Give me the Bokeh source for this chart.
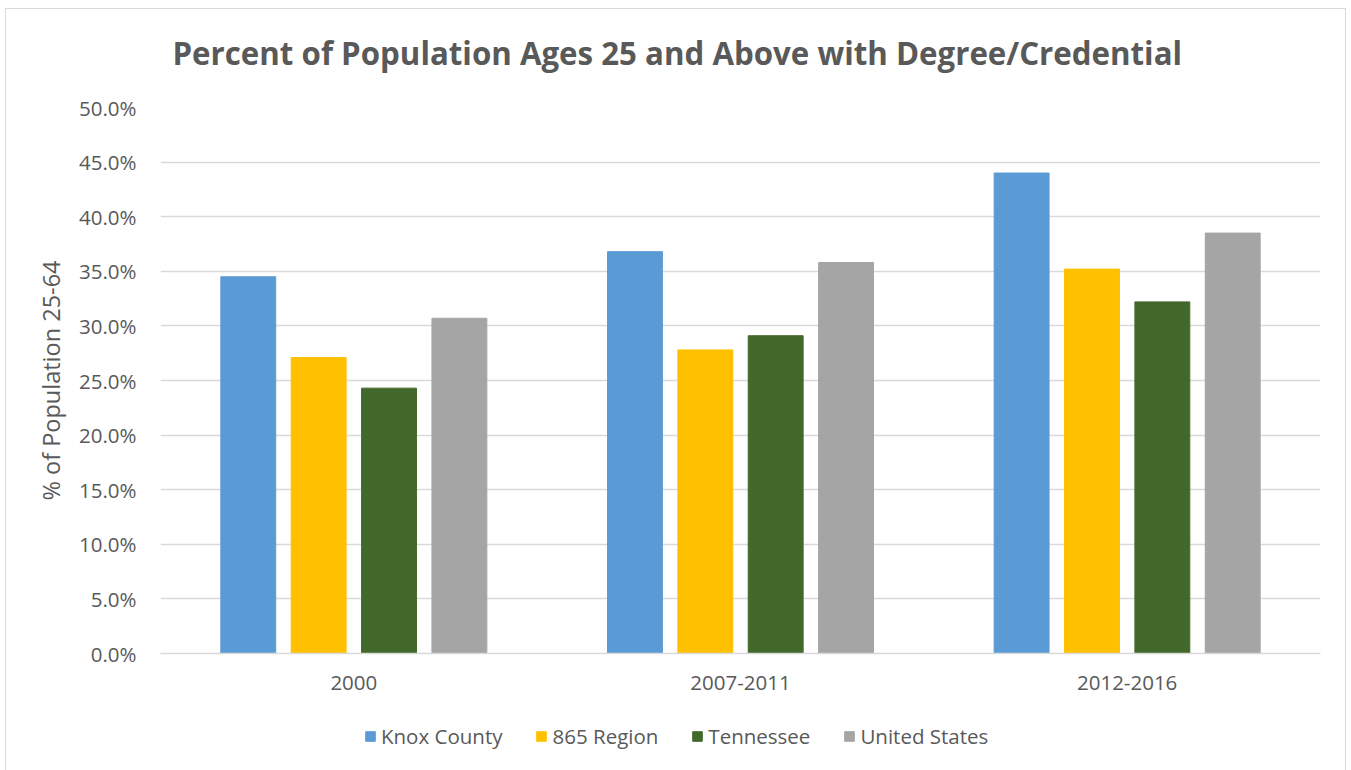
from bokeh.plotting import figure
from bokeh.layouts import column
from bokeh.models import ColumnDataSource, FactorRange, Legend, LegendItem, NumeralTickFormatter, Label, SingleIntervalTicker
from bokeh.transform import dodge
from bokeh.embed import file_html
from bokeh.resources import INLINE

periods = ["2000", "2007-2011", "2012-2016"]
series = ["Knox County", "865 Region", "Tennessee", "United States"]
knox = [0.345, 0.368, 0.440]
region865 = [0.271, 0.278, 0.352]
tennessee = [0.243, 0.291, 0.322]
united_states = [0.307, 0.358, 0.385]
colors = ["#5b9bd5", "#ffc000", "#43682b", "#a5a5a5"]

source = ColumnDataSource(dict(periods=periods, knox=knox, region865=region865,
                               tennessee=tennessee, us=united_states))

FONT = "Open Sans"
TXT = "#595959"
W = 1339


def strip(height):
    f = figure(width=W, height=height, output_backend="svg", toolbar_location=None,
               x_range=(0, 1), y_range=(0, 1), x_axis_type=None, y_axis_type=None,
               min_border=0, min_border_left=0, min_border_right=0,
               min_border_top=0, min_border_bottom=0)
    f.outline_line_color = None
    f.xgrid.visible = False
    f.ygrid.visible = False
    return f


# title strip (its frame is aligned with the main plot's frame by the column layout)
pt = strip(83)
pt.add_layout(Label(text="Percent of Population Ages 25 and Above with Degree/Credential",
                    x=12, y=40, x_units="screen", y_units="screen",
                    text_align="left", text_baseline="alphabetic",
                    text_font=FONT, text_font_size="31.25px", text_font_style="bold",
                    text_color=TXT))

p = figure(x_range=FactorRange(*periods, range_padding=0), y_range=(0, 0.5),
           width=W, height=621, output_backend="svg", toolbar_location=None,
           min_border_left=154, min_border_right=25, min_border_top=15, min_border_bottom=60)
p.outline_line_color = None

cols = ["knox", "region865", "tennessee", "us"]
offsets = [-0.273, -0.091, 0.091, 0.273]
for c, off, col in zip(cols, offsets, colors):
    p.vbar(x=dodge("periods", off, range=p.x_range), top=c, width=0.142,
           source=source, fill_color=col, line_color=col)

p.yaxis.ticker = SingleIntervalTicker(interval=0.05)
p.yaxis.formatter = NumeralTickFormatter(format="0.0%")
p.yaxis.axis_line_color = None
p.yaxis.major_tick_line_color = None
p.yaxis.minor_tick_line_color = None
p.yaxis.major_label_text_font = FONT
p.yaxis.major_label_text_font_size = "20.5px"
p.yaxis.major_label_text_color = TXT
p.yaxis.major_label_standoff = 18
p.yaxis.axis_label = "% of Population 25-64"
p.yaxis.axis_label_text_font = FONT
p.yaxis.axis_label_text_font_style = "normal"
p.yaxis.axis_label_text_font_size = "23.5px"
p.yaxis.axis_label_text_color = TXT
p.yaxis.axis_label_standoff = 9

p.xaxis.axis_line_color = "#d9d9d9"
p.xaxis.axis_line_width = 1.5
p.xaxis.major_tick_line_color = None
p.xaxis.minor_tick_line_color = None
p.xaxis.major_label_text_font = FONT
p.xaxis.major_label_text_font_size = "20.5px"
p.xaxis.major_label_text_color = TXT
p.xaxis.major_label_standoff = 16

p.xgrid.grid_line_color = None
p.ygrid.grid_line_color = "#d9d9d9"
p.ygrid.grid_line_width = 1.5

# legend strip
pl = strip(58)
# zero-height swatch renderers placed outside the visible range (used only for legend glyphs)
leg_renderers = [pl.vbar(x=[-5], top=[0], width=0.1, fill_color=col, line_color=col) for col in colors]
legend = Legend(items=[LegendItem(label=s, renderers=[r]) for s, r in zip(series, leg_renderers)],
                orientation="horizontal", location=(204, 21), padding=0,
                label_text_font=FONT, label_text_font_size="20.5px", label_text_color=TXT,
                glyph_width=12, glyph_height=12, label_standoff=5, spacing=33,
                border_line_color=None, background_fill_alpha=0, margin=0)
pl.add_layout(legend)

layout = column(pt, p, pl, spacing=0)
layout.styles = {"border": "1px solid #d9d9d9", "margin-left": "5px", "margin-top": "8px"}

open("out.html", "w").write(file_html(layout, INLINE))
